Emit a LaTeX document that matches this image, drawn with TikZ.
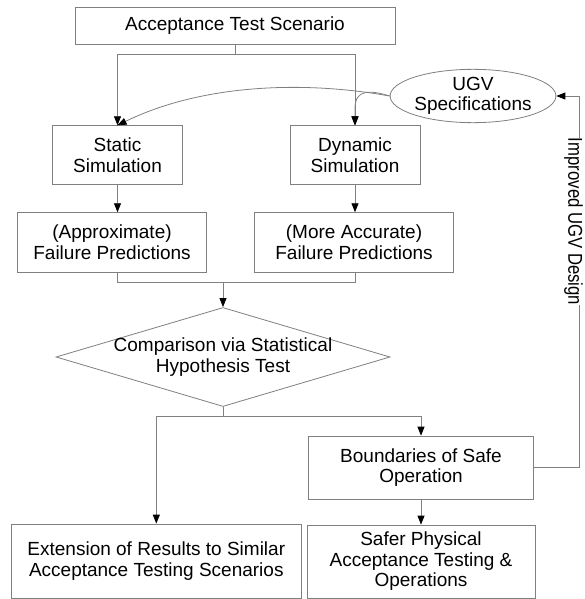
\documentclass[tikz,border=0pt]{standalone}
\usepackage{fontspec}
\setmainfont{Liberation Sans}
\usetikzlibrary{shapes.geometric,arrows.meta,calc}
\definecolor{lc}{RGB}{128,128,128}
\begin{document}
\begin{tikzpicture}[x=1pt,y=-1pt,
  txt/.style={font=\fontsize{19}{20.5}\selectfont, align=center},
  box/.style={txt, draw=lc, line width=0.8pt, rectangle, inner sep=0pt},
  oval/.style={txt, draw=lc, line width=0.8pt, ellipse, inner sep=0pt},
  dia/.style={draw=lc, line width=0.8pt, diamond, inner sep=0pt},
  conn/.style={draw=lc, line width=0.8pt},
  arr/.style={conn, -{Triangle[length=9pt,width=7pt,color=black]}}]
\fill[white] (0,0) rectangle (584,599);
\useasboundingbox (0,0) rectangle (584,599);

\node[box, minimum width=320pt, minimum height=37pt] (top) at (235,26) {Acceptance Test Scenario};
\node[box, minimum width=130pt, minimum height=58.6pt] (static) at (117.5,155) {Static\\Simulation};
\node[box, minimum width=130pt, minimum height=58.6pt] (dynamic) at (355,155) {Dynamic\\Simulation};
\node[oval, minimum width=158pt, minimum height=52pt] (ugv) at (473,96) {UGV\\Specifications};
\node[box, minimum width=189pt, minimum height=59.3pt] (approx) at (112,242.3) {(Approximate)\\Failure Predictions};
\node[box, minimum width=199pt, minimum height=59.3pt] (accurate) at (354,242.3) {(More Accurate)\\Failure Predictions};
\node[dia, minimum width=334pt, minimum height=99pt] (cmp) at (223,357) {};
\node[txt] (cmptext) at (cmp.center) {Comparison via Statistical\\Hypothesis Test};
\node[box, minimum width=225.5pt, minimum height=63.3pt] (bound) at (421,467.7) {Boundaries of Safe\\Operation};
\node[box, minimum width=289.3pt, minimum height=74pt] (ext) at (156.3,561) {Extension of Results to Similar\\Acceptance Testing Scenarios};
\node[box, minimum width=228pt, minimum height=73pt] (safer) at (421,561.5) {Safer Physical\\Acceptance Testing \&\\Operations};

% top to simulations
\coordinate (j1) at ($(top.south)+(0,9.5)$);
\draw[conn] (top.south) -- (j1);
\draw[arr] (j1) -| (static.north);
\draw[arr] (j1) -| (dynamic.north);

% UGV specs to simulations
\draw[arr] (ugv.west) .. controls (300,80) and (200,85) .. (static.north);
\coordinate (dj) at ($(dynamic.north)+(0,-17)$);
\draw[arr] (ugv.west) .. controls (370,90) and (355,89) .. (dj) -- (dynamic.north);

% simulations to predictions
\draw[arr] (static.south) -- (static.south |- approx.north);
\draw[arr] (dynamic.south) -- (dynamic.south |- accurate.north);

% predictions to comparison
\coordinate (j2) at ($(cmp.north)+(0,-25)$);
\draw[conn] (static.south |- approx.south) |- (j2) -| (dynamic.south |- accurate.south);
\draw[arr] (j2) -- (cmp.north);

% comparison to outputs
\coordinate (j3) at ($(cmp.south)+(0,9.5)$);
\draw[conn] (cmp.south) -- (j3);
\draw[arr] (j3) -| (ext.north);
\draw[arr] (j3) -| (bound.north);
\draw[arr] (bound.south) -- (safer.north);

% feedback
\coordinate (fb) at (579,96);
\draw[arr] (bound.east) -| (fb) -- (ugv.east);
\node[fill=white, inner sep=0pt, rotate=-90, font=\fontsize{20}{22}\selectfont] (lbl) at (573.5,221.5) {\scalebox{0.835}[1]{Improved UGV Design}};
\end{tikzpicture}
\end{document}
